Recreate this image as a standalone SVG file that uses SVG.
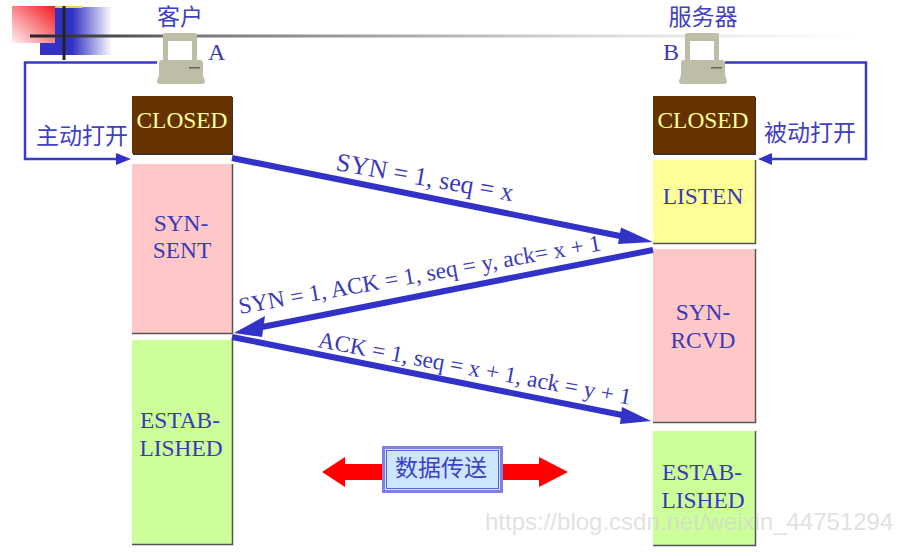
<svg xmlns="http://www.w3.org/2000/svg" width="903" height="556" viewBox="0 0 903 556">
<style>
text{font-family:"Liberation Serif","Noto Sans CJK SC",serif;fill:#3a3ab8}
.cjk{font-family:"Noto Sans CJK SC","Liberation Sans",sans-serif;font-size:23px;fill:#4040c0;text-anchor:middle}
.st{font-size:23.400px;text-anchor:middle}
.lb{font-size:23.300px}
.edge{fill:none;stroke:#555;stroke-width:1.500}
.thin{fill:none;stroke:#3a3ac8;stroke-width:2.500}
.thick{fill:none;stroke:#3232c8;stroke-width:6}
.head{fill:#3232c8}
.pc{fill:#bdbda8}
</style>
<defs>
<linearGradient id="red" x1="1" y1="0" x2="0" y2="1"><stop offset="0" stop-color="#f21c24"/><stop offset="1" stop-color="#fff0f0"/></linearGradient>
<linearGradient id="blue" x1="0" x2="1" y1="0" y2="0"><stop offset="0.450" stop-color="#3232c4"/><stop offset="1" stop-color="#3232c4" stop-opacity="0"/></linearGradient>
<linearGradient id="rule" x1="0" x2="1" y1="0" y2="0"><stop offset="0" stop-color="#222"/><stop offset="0.200" stop-color="#777"/><stop offset="0.700" stop-color="#ddd"/><stop offset="1" stop-color="#fff"/></linearGradient>
<g id="pc">
<path class="pc" d="M6 2Q6 0 8 0H38Q40 0 40 2V28H6Z"/>
<rect x="11" y="8" width="24" height="19" fill="#fff"/>
<path class="pc" d="M5 27H43Q46 27 46 30V42H2V30Q2 27 5 27Z"/>
<rect x="32" y="34" width="11" height="1.500" fill="#666658"/>
<path class="pc" d="M2 42H46L48 48Q48 51 45 51H3Q0 51 0 48Z"/>
</g>
</defs>
<g id="decoration">
<rect x="40" y="7" width="72" height="48" fill="url(#blue)"/>
<rect x="55" y="6" width="28" height="2" fill="#e8d24a"/>
<rect x="12" y="6" width="43" height="37" fill="url(#red)"/>
<rect x="30" y="34.500" width="825" height="3" fill="url(#rule)"/>
<rect x="62.500" y="6" width="3" height="54" fill="#222"/>
</g>
<g id="client">
<text class="cjk" x="180" y="25">客户</text>
<use href="#pc" x="157" y="33"/>
<text class="lb" x="208" y="60" style="font-size:24px">A</text>
</g>
<g id="server">
<text class="cjk" x="703" y="25">服务器</text>
<use href="#pc" x="679" y="33"/>
<text class="lb" x="663" y="60" style="font-size:24px">B</text>
</g>
<g id="a-closed">
<rect x="133" y="97" width="100" height="58" fill="#333"/>
<rect x="132" y="96" width="100" height="57.500" fill="#663300"/>
<text class="st" x="182" y="128" style="fill:#ffff99">CLOSED</text>
</g>
<g id="a-syn-sent">
<path d="M132 164H232V333H132Z" fill="#ffc8c8"/>
<path class="edge" d="M232.500 164V333.500H132"/>
<text class="st" x="181" y="231">SYN-</text>
<text class="st" x="182" y="258">SENT</text>
</g>
<g id="a-established">
<path d="M132 340H232V544H132Z" fill="#ccff99"/>
<path class="edge" d="M232.500 340V544.500H132"/>
<text class="st" x="180" y="428">ESTAB-</text>
<text class="st" x="181" y="456">LISHED</text>
</g>
<g id="b-closed">
<rect x="654" y="97" width="102" height="58" fill="#333"/>
<rect x="653" y="96" width="102" height="57.500" fill="#663300"/>
<text class="st" x="703" y="128" style="fill:#ffff99">CLOSED</text>
</g>
<g id="b-listen">
<path d="M653 160H755V243H653Z" fill="#ffff99"/>
<path class="edge" d="M755.500 160V243.500H653"/>
<text class="st" x="703" y="204">LISTEN</text>
</g>
<g id="b-syn-rcvd">
<path d="M653 249H755V422H653Z" fill="#ffc8c8"/>
<path class="edge" d="M755.500 249V422.500H653"/>
<text class="st" x="703" y="320">SYN-</text>
<text class="st" x="703" y="348">RCVD</text>
</g>
<g id="b-established">
<path d="M653 431H755V545H653Z" fill="#ccff99"/>
<path class="edge" d="M755.500 431V545.500H653"/>
<text class="st" x="702" y="480">ESTAB-</text>
<text class="st" x="703" y="508">LISHED</text>
</g>
<g id="connectors">
<path class="thin" d="M157 62.500H25V159H120"/>
<path class="head" d="M131 159L116 153V165Z"/>
<path class="thin" d="M725 62.500H866V159H768"/>
<path class="head" d="M758 159L772 153V165Z"/>
<path class="thick" d="M232 158L625 237"/>
<path class="head" d="M653 242L621 227.500L618 244Z"/>
<path class="thick" d="M653 250L262 327"/>
<path class="head" d="M234 333L265 316L262 337Z"/>
<path class="thick" d="M232 337L622 415"/>
<path class="head" d="M651 421L622 407L620 424Z"/>
</g>
<g id="labels">
<text class="lb" transform="translate(335 170) rotate(10)" style="font-size:25.800px">SYN = 1, seq = x</text>
<text class="lb" transform="translate(240 314) rotate(-10)">SYN = 1, ACK = 1, seq = y, ack= x + 1</text>
<text class="lb" transform="translate(317 347) rotate(10.500)">ACK = 1, seq = x + 1, ack = y + 1</text>
<text class="cjk" x="82" y="144">主动打开</text>
<text class="cjk" x="810" y="141">被动打开</text>
</g>
<g id="data-transfer">
<path d="M322 472L345 457V464H539V457L568 472L539 487V480H345V487Z" fill="#f00"/>
<rect x="383.500" y="447.500" width="118" height="44" fill="#cce6ff" stroke="#8080e0" stroke-width="3"/>
<rect x="386.500" y="450.500" width="112" height="38" fill="none" stroke="#6060c8" stroke-width="1"/>
<text class="cjk" x="441" y="476">数据传送</text>
</g>
<text id="watermark" x="485" y="530" style="font-family:'Liberation Sans',sans-serif;font-size:24px;fill:#d4d4d4;fill-opacity:.7">https://blog.csdn.net/weixin_44751294</text>
</svg>
